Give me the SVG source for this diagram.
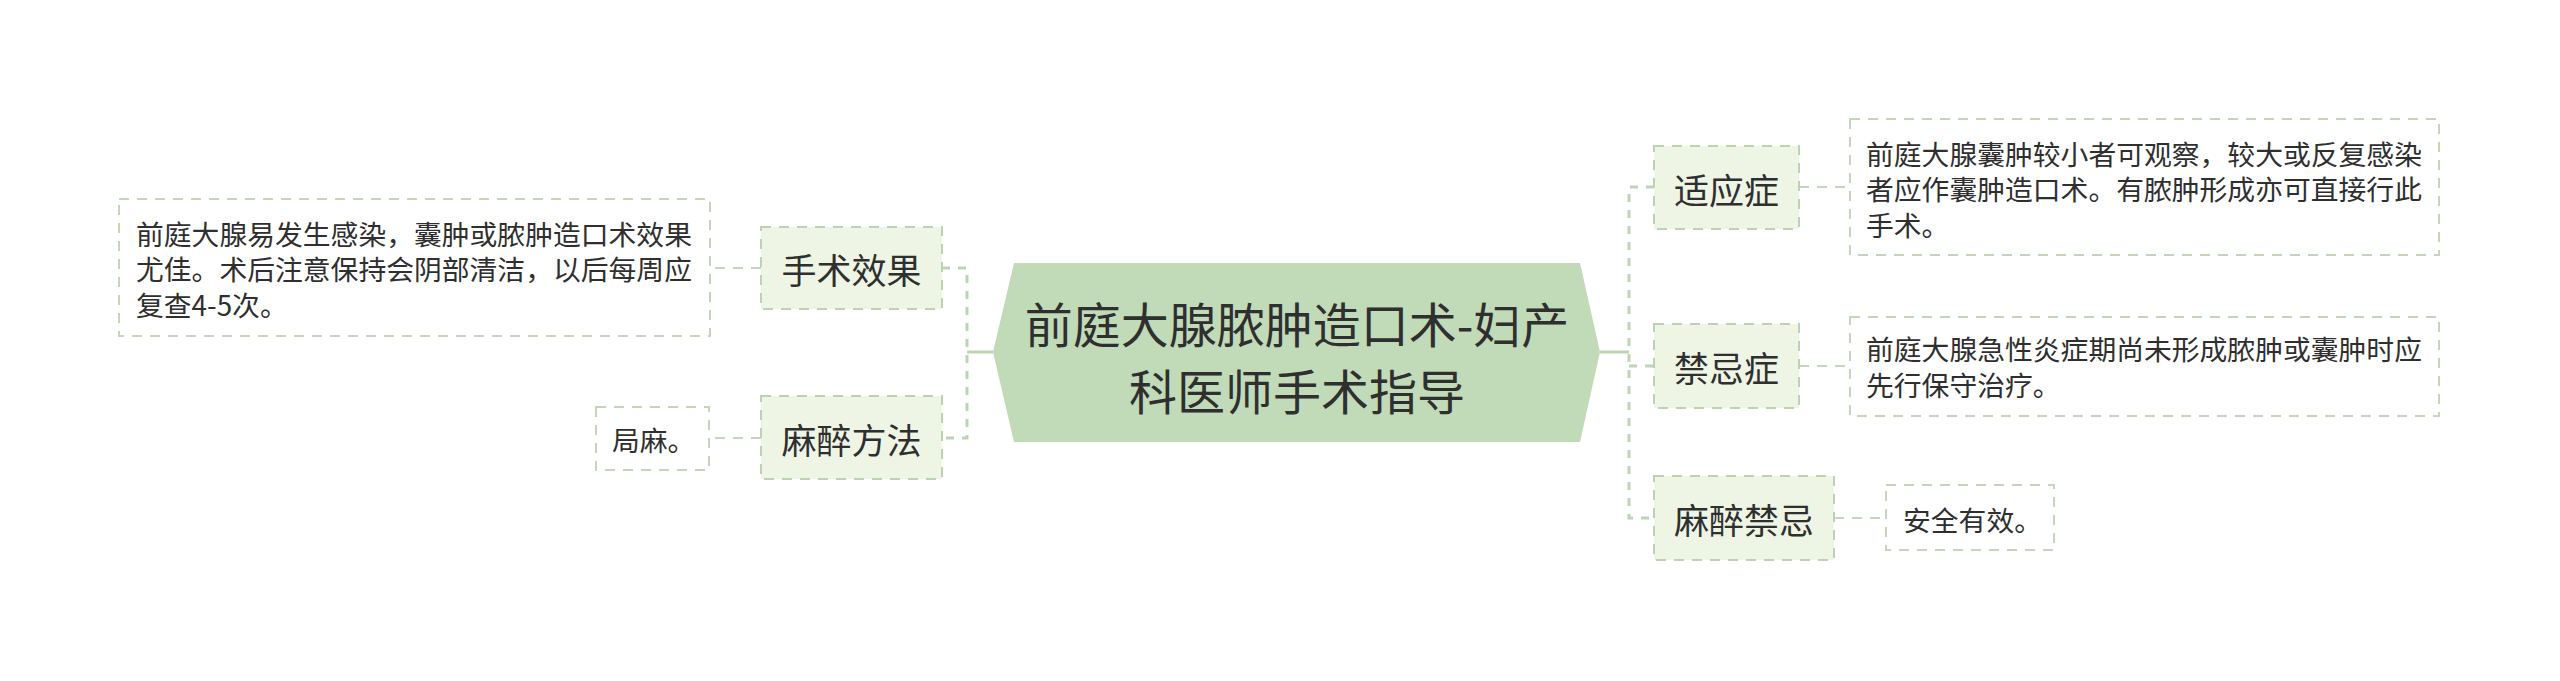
<svg xmlns="http://www.w3.org/2000/svg" width="2560" height="681" viewBox="0 0 2560 681">
<style>
text{font-family:"Noto Sans CJK SC","Noto Sans",sans-serif;fill:#2f2f2f;dominant-baseline:central}
.c{font-size:48px;text-anchor:middle}
.n{font-size:35px;text-anchor:middle}
.l{font-size:27.8px}
.node{fill:#eef5e5;stroke:#bcd3b2;stroke-width:2;stroke-dasharray:10 8}
.leaf{fill:#fff;stroke:#c4d5bc;stroke-width:2;stroke-dasharray:10 8}
.conn{fill:none;stroke:#bdd5b4;stroke-width:3;stroke-dasharray:8 8}
.lc{fill:none;stroke:#c4d6bc;stroke-width:2;stroke-dasharray:10 8}
</style>
<rect width="2560" height="681" fill="#fff"/>
<g id="connectors">
<path d="M1600 352H1629" fill="none" stroke="#bdd5b4" stroke-width="3"/>
<path class="conn" d="M1654 187H1629V518H1654"/>
<path class="conn" d="M1629 366H1654"/>
<path d="M993 352H967" fill="none" stroke="#bdd5b4" stroke-width="3"/>
<path class="conn" d="M942 268H967V438H942"/>
<path class="lc" d="M761 268H710"/>
<path class="lc" d="M761 438H709"/>
<path class="lc" d="M1799 187H1850"/>
<path class="lc" d="M1799 366H1850"/>
<path class="lc" d="M1834 518H1886"/>
</g>
<g id="center">
<polygon points="993,352 1014,263 1580,263 1600,352 1580,442 1014,442" fill="#c1dab8"/>
<text class="c" x="1297" y="322">前庭大腺脓肿造口术-妇产</text>
<text class="c" x="1297" y="389">科医师手术指导</text>
</g>
<g id="n-shoushu">
<rect class="node" x="761" y="227" width="181" height="82"/>
<text class="n" x="851.5" y="268">手术效果</text>
</g>
<g id="leaf-shoushu">
<rect class="leaf" x="119" y="199" width="591" height="137"/>
<text class="l" x="136" y="233">前庭大腺易发生感染，囊肿或脓肿造口术效果</text>
<text class="l" x="136" y="268">尤佳。术后注意保持会阴部清洁，以后每周应</text>
<text class="l" x="136" y="304">复查4-5次。</text>
</g>
<g id="n-mazui">
<rect class="node" x="761" y="396" width="181" height="83"/>
<text class="n" x="851.5" y="438">麻醉方法</text>
</g>
<g id="leaf-mazui">
<rect class="leaf" x="596" y="407" width="113" height="63"/>
<text class="l" x="612" y="439">局麻。</text>
</g>
<g id="n-shiying">
<rect class="node" x="1654" y="146" width="145" height="83"/>
<text class="n" x="1726.5" y="188">适应症</text>
</g>
<g id="leaf-shiying">
<rect class="leaf" x="1850" y="119" width="589" height="136"/>
<text class="l" x="1866" y="153">前庭大腺囊肿较小者可观察，较大或反复感染</text>
<text class="l" x="1866" y="188">者应作囊肿造口术。有脓肿形成亦可直接行此</text>
<text class="l" x="1866" y="224">手术。</text>
</g>
<g id="n-jinji">
<rect class="node" x="1654" y="324" width="145" height="84"/>
<text class="n" x="1726.5" y="366">禁忌症</text>
</g>
<g id="leaf-jinji">
<rect class="leaf" x="1850" y="317" width="589" height="99"/>
<text class="l" x="1866" y="348">前庭大腺急性炎症期尚未形成脓肿或囊肿时应</text>
<text class="l" x="1866" y="384">先行保守治疗。</text>
</g>
<g id="n-mazuijinji">
<rect class="node" x="1654" y="476" width="180" height="84"/>
<text class="n" x="1744" y="518">麻醉禁忌</text>
</g>
<g id="leaf-mazuijinji">
<rect class="leaf" x="1886" y="485" width="168" height="65"/>
<text class="l" x="1903" y="519">安全有效。</text>
</g>
</svg>
